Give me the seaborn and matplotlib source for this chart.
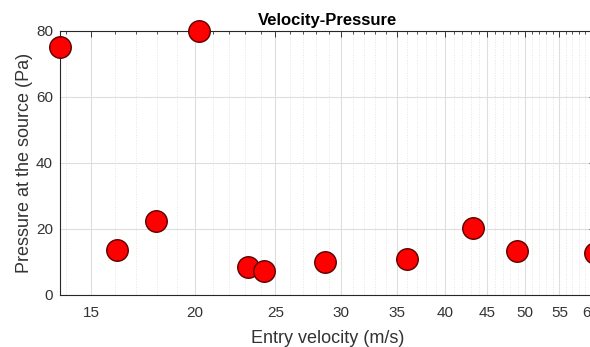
import numpy as np
import pandas as pd
import matplotlib
matplotlib.use("Agg")
import matplotlib.pyplot as plt
import seaborn as sns
from matplotlib.ticker import FixedLocator, NullFormatter, FixedFormatter

# Data
velocity = [13.75, 16.1, 17.95, 20.2, 23.2, 24.2, 28.7, 36.0, 43.3, 48.9, 60.7]
pressure = [75.0, 13.7, 22.5, 80.0, 8.5, 7.3, 10.1, 10.9, 20.4, 13.3, 12.8]
xticks = [15, 20, 25, 30, 35, 40, 45, 50, 55, 60]
yticks = [0, 20, 40, 60, 80]

df = pd.DataFrame({"velocity": velocity, "pressure": pressure})

sns.set_style("white")
plt.rcParams["font.family"] = ["Liberation Sans", "DejaVu Sans"]

fig = plt.figure(figsize=(5.9, 3.47), dpi=100)
ax = fig.add_axes([60 / 590, 1 - 295 / 347, 535 / 590, 264 / 347])

ax.set_xscale("log")
ax.set_xlim(13.75, 60.7)
ax.set_ylim(0, 80)

ax.xaxis.set_major_locator(FixedLocator(xticks))
ax.xaxis.set_major_formatter(FixedFormatter([str(t) for t in xticks]))
ax.xaxis.set_minor_locator(FixedLocator(list(range(14, 61))))
ax.xaxis.set_minor_formatter(NullFormatter())
ax.set_yticks(yticks)

ax.grid(True, which="major", color="#dedede", linewidth=0.8, linestyle="-")
ax.grid(True, which="minor", axis="x", color="#e4e4e4", linewidth=0.7, linestyle=":")
ax.set_axisbelow(True)

sns.scatterplot(data=df, x="velocity", y="pressure", ax=ax, s=240,
                color="#ff0000", edgecolor="#5a0000", linewidth=1.0,
                clip_on=False, zorder=5, legend=False)

for side in ["top", "bottom", "left", "right"]:
    ax.spines[side].set_color("#262626")
    ax.spines[side].set_linewidth(0.8)

ax.tick_params(axis="both", which="major", direction="in", length=4, width=0.7,
               colors="#333333", labelsize=11, top=True, right=True)
ax.tick_params(axis="x", which="major", pad=8)
ax.tick_params(axis="y", which="major", pad=5)
ax.tick_params(axis="x", which="minor", direction="in", length=2, width=0.6,
               colors="#333333", top=True)
for lbl in ax.get_xticklabels() + ax.get_yticklabels():
    lbl.set_color("#333333")

ax.set_xlabel("Entry velocity (m/s)", fontsize=13, color="#333333", labelpad=7)
ax.set_ylabel("Pressure at the source (Pa)", fontsize=13, color="#333333", labelpad=2)
ax.set_title("Velocity-Pressure", fontsize=12, fontweight="bold", color="#000000", pad=4)

fig.savefig("out.png", dpi=100)
